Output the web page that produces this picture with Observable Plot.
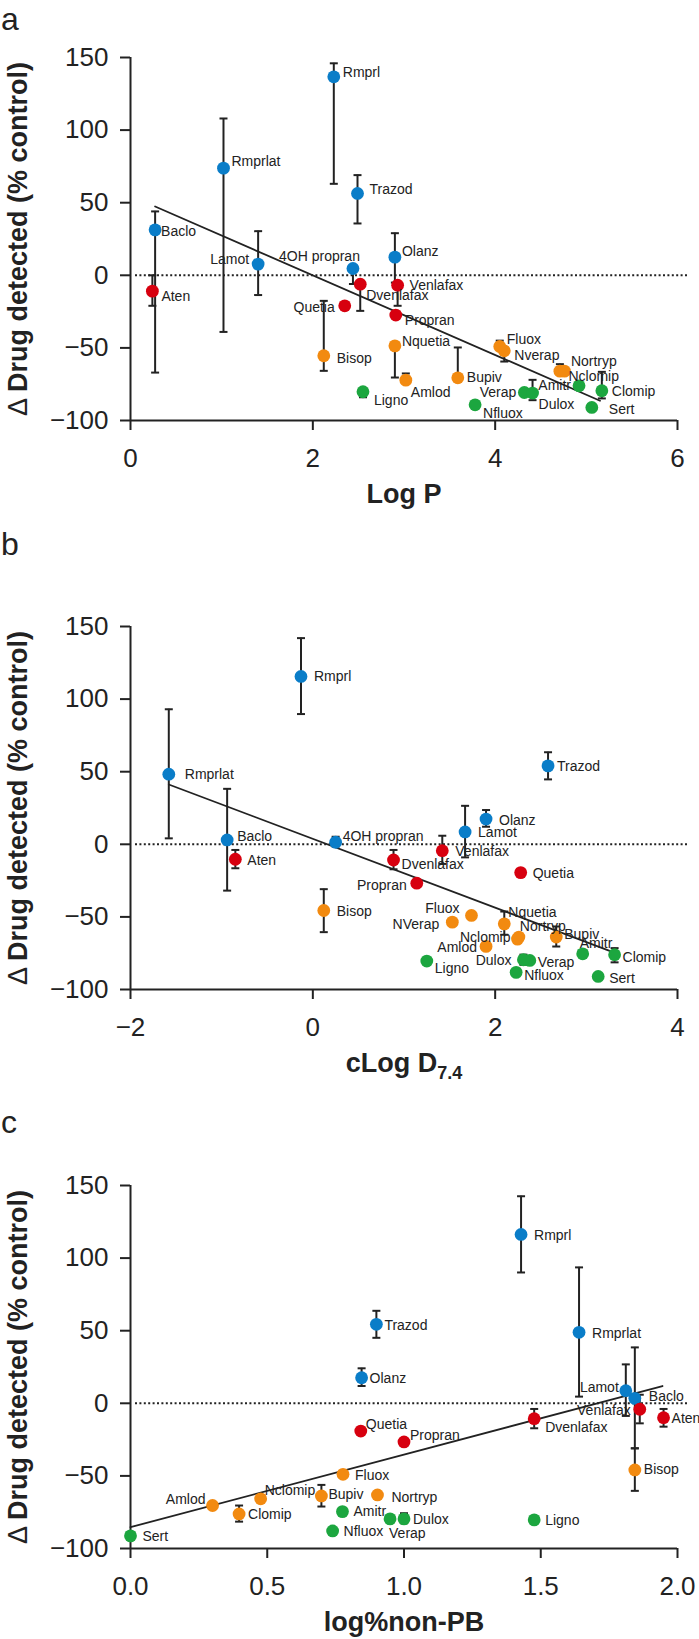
<!DOCTYPE html>
<html><head><meta charset="utf-8">
<script src="https://cdn.jsdelivr.net/npm/d3@7"></script>
<script src="https://cdn.jsdelivr.net/npm/@observablehq/plot@0.6"></script>
<style>
body{margin:0;background:#fff;}
#root{position:relative;width:699px;height:1639px;overflow:hidden;font-family:"Liberation Sans",Arial,sans-serif;background:#fff;}
.panel{position:absolute;left:0;}
.letter{position:absolute;left:1px;font-size:32px;line-height:1;color:#222;}
</style></head><body>
<div id="root">
  <div class="letter" style="top:3px">a</div>
  <div class="letter" style="top:528px">b</div>
  <div class="letter" style="top:1106px">c</div>
  <div class="panel" id="pa" style="top:0px"></div>
  <div class="panel" id="pb" style="top:569px"></div>
  <div class="panel" id="pc" style="top:1128px"></div>
</div>
<script>
// ---------- Panel a : Log P ----------
const aNames  = ["Rmprl","Rmprlat","Trazod","Baclo","Lamot","4OH propran","Olanz","Aten","Quetia","Dvenlafax","Venlafax","Propran","Bisop","Nquetia","Amlod","Bupiv","Fluox","Nverap","Nortryp","Nclomip","Ligno","Nfluox","Verap","Dulox","Amitr","Clomip","Sert"];
const aGroups = ["g1","g1","g1","g1","g1","g1","g1","g2","g2","g2","g2","g2","g3","g3","g3","g3","g3","g3","g3","g3","g4","g4","g4","g4","g4","g4","g4"];
const aX  = [2.23,1.02,2.49,0.27,1.40,2.44,2.90,0.24,2.35,2.52,2.93,2.91,2.12,2.90,3.02,3.59,4.05,4.10,4.71,4.76,2.55,3.78,4.32,4.41,4.92,5.17,5.06];
const aY  = [136.7,73.8,56.4,31.3,7.7,4.7,12.5,-10.9,-21,-6.1,-6.8,-27.4,-55.4,-48.6,-72.2,-70.6,-49,-52,-66,-66,-80.2,-89.2,-80.7,-81.1,-76.1,-79.5,-91];
const aLo = [63,-39,35.7,-67,-13.6,-6,-5,-21,null,-24.5,-21,null,-65.8,-70.4,-72.2,-70.6,-49,-59.4,-66,null,-84,null,null,-86,null,-84.8,null];
const aHi = [146,108,69,44,30.4,4.7,29,0,null,-6.1,-6.8,null,-17.6,-48.6,-67.6,-49.7,-45,-52,-61.2,null,-80.2,null,null,-72,null,-66.5,null];
const aFit = [[0.27,47.4],[5.15,-86.4]];

// ---------- Panel b : cLog D7.4 ----------
const bNames  = ["Rmprl","Rmprlat","Trazod","Baclo","Lamot","4OH propran","Olanz","Aten","Quetia","Dvenlafax","Venlafax","Propran","Bisop","Nquetia","Amlod","Bupiv","Fluox","NVerap","Nortryp","Nclomip","Ligno","Nfluox","Verap","Dulox","Amitr","Clomip","Sert"];
const bGroups = ["g1","g1","g1","g1","g1","g1","g1","g2","g2","g2","g2","g2","g3","g3","g3","g3","g3","g3","g3","g3","g4","g4","g4","g4","g4","g4","g4"];
const bX  = [-0.13,-1.58,2.58,-0.94,1.67,0.25,1.90,-0.85,2.28,0.885,1.42,1.14,0.12,2.10,1.90,2.67,1.74,1.53,2.26,2.245,1.25,2.23,2.38,2.31,2.96,3.31,3.13];
const bY  = [115.6,48.3,54,3,8.5,1.4,17.4,-10.3,-19.5,-10.8,-4.4,-26.8,-45.6,-54.8,-70.3,-63.9,-49,-53.6,-63.9,-65.3,-80.4,-88.2,-80,-79.5,-75.4,-76,-91];
const bLo = [89.7,4.1,44.7,-31.9,-9,-1.6,12.1,-16.5,null,-17.2,-13.5,null,-60.5,-62.3,null,-70.4,null,null,null,null,null,null,null,-83,null,-81.3,null];
const bHi = [142,93,63.4,38.2,26.5,5.2,23.6,-3.9,null,-3.9,5.9,null,-30.9,-46.3,null,-56.6,null,null,null,null,null,null,null,-76,null,-71.5,null];
const bFit = [[-1.58,41.2],[3.27,-73.8]];

// ---------- Panel c : log%non-PB ----------
const cNames  = ["Rmprl","Rmprlat","Trazod","Baclo","Lamot","Olanz","Aten","Quetia","Dvenlafax","Venlafax","Propran","Bisop","Amlod","Bupiv","Fluox","Nortryp","Nclomip","Clomip","Ligno","Nfluox","Verap","Dulox","Amitr","Sert"];
const cGroups = ["g1","g1","g1","g1","g1","g1","g2","g2","g2","g2","g2","g3","g3","g3","g3","g3","g3","g3","g4","g4","g4","g4","g4","g4"];
const cX  = [1.428,1.640,0.899,1.844,1.811,0.845,1.949,0.842,1.476,1.862,1.0,1.844,0.30,0.698,0.777,0.903,0.476,0.397,1.476,0.739,0.949,1.0,0.775,0.0];
const cY  = [116.3,48.9,54.4,3.4,8.7,17.6,-9.9,-19.1,-10.6,-4.1,-26.6,-45.9,-70.4,-63.8,-48.9,-63.1,-65.8,-76.2,-80.3,-87.9,-79.6,-79.6,-74.6,-91.3];
const cLo = [90.1,4.6,45.1,-31,-8.7,11.9,-16.1,null,-17.2,-13.8,null,-60.3,null,-71.1,null,null,null,-81.5,null,null,null,-82.6,null,null];
const cHi = [142.6,93.6,63.7,38.5,26.8,24.1,-3.9,null,-3.9,5.9,null,-31,null,-56.2,null,null,null,-70.4,null,null,null,-75.7,null,null];
const cFit = [[0,-85.3],[1.945,11.9]];

const yTicks = [-100,-50,0,50,100,150];
const aTicks = [0,2,4,6];
const bTicks = [-2,0,2,4];
const cTicks = [0,0.5,1,1.5,2];

// ---------- layout / style ----------
const ink = "#222";
const groupColors = {domain:["g1","g2","g3","g4"], range:["#0a7dc8","#d7000f","#f28a10","#1ca63f"]};
const E = "end";
const aNudge = {"Rmprl":[9,-4],"Rmprlat":[8,-7],"Trazod":[12,-4],"Baclo":[6,2],"Lamot":[-9,-5,E],"4OH propran":[7,-12,E],"Olanz":[7,-6],"Aten":[9,5],"Quetia":[-10,2,E],"Dvenlafax":[6,11],"Venlafax":[12,0],"Propran":[9,5],"Bisop":[13,3],"Nquetia":[7,-4],"Amlod":[5,12],"Bupiv":[9,0],"Fluox":[7,-7],"Nverap":[10,5],"Nortryp":[11,-10],"Nclomip":[4,5],"Ligno":[11,9],"Nfluox":[8,9],"Verap":[-8,0,E],"Dulox":[6,11],"Amitr":[-8,0,E],"Clomip":[10,1],"Sert":[17,2]};
const bNudge = {"Rmprl":[13,0],"Rmprlat":[16,0],"Trazod":[9,1],"Baclo":[10,-3],"Lamot":[13,1],"4OH propran":[7,-6],"Olanz":[13,1],"Aten":[12,1],"Quetia":[12,1],"Dvenlafax":[8,5],"Venlafax":[13,1],"Propran":[-10,2,E],"Bisop":[13,1],"Nquetia":[4,-11],"Amlod":[-9,1,E],"Bupiv":[8,-3],"Fluox":[-12,-7,E],"NVerap":[-13,2,E],"Nortryp":[1,-11],"Nclomip":[-7,-2,E],"Ligno":[8,7],"Nfluox":[8,3],"Verap":[8,2],"Dulox":[-12,1,E],"Amitr":[-3,-10],"Clomip":[8,3],"Sert":[11,2]};
const cNudge = {"Rmprl":[13,1],"Rmprlat":[13,1],"Trazod":[8,1],"Baclo":[14,-2],"Lamot":[-7,-3,E],"Olanz":[8,1],"Aten":[8,1],"Quetia":[5,-7],"Dvenlafax":[11,9],"Venlafax":[-9,1,E],"Propran":[6,-6],"Bisop":[9,0],"Amlod":[-7,-6,E],"Bupiv":[7,-1],"Fluox":[12,1],"Nortryp":[14,3],"Nclomip":[4,-8],"Ligno":[11,1],"Nfluox":[11,1],"Verap":[-1,15],"Dulox":[9,1],"Amitr":[11,0],"Clomip":[9,1],"Sert":[12,1]};

const cap = {draw(ctx){ ctx.moveTo(-4,0); ctx.lineTo(4,0); }};

function makePanel(target, names, groups, xs, ys, los, his, fit, xDomain, xTicks, xFmt, nudge, xLabelParts) {
  const rows = names.map((n,i)=>({name:n, group:groups[i], x:xs[i], y:ys[i], lo:los[i], hi:his[i]}));
  const err = rows.filter(d=>d.lo!=null);
  const capLo = err.filter(d=>d.lo < d.y - 0.5);
  const capHi = err.filter(d=>d.hi > d.y + 0.5);
  const fitRows = fit.map(([x,y])=>({x,y}));
  const labels = rows.map(d=>{
    const [dx,dy,anchor] = nudge[d.name];
    return Plot.text([d], {x:"x", y:"y", text:"name", dx, dy, textAnchor: anchor || "start", fontSize:14, fill:ink});
  });
  const svg = Plot.plot({
    width: 699, height: 511,
    marginLeft: 130, marginRight: 22, marginTop: 57, marginBottom: 91,
    style: {fontFamily: '"Liberation Sans", Arial, sans-serif', color: ink, background: "transparent", overflow: "visible"},
    x: {domain: xDomain},
    y: {domain: [-100,150]},
    color: groupColors,
    marks: [
      Plot.ruleY([0], {stroke: ink, strokeWidth: 2, strokeDasharray: "2,2.4", insetLeft: 5, insetRight: -11}),
      Plot.ruleX([xDomain[0]], {stroke: ink, strokeWidth: 2}),
      Plot.ruleY([-100], {stroke: ink, strokeWidth: 2}),
      Plot.axisY({ticks: yTicks, tickFormat: d3.format("d"), tickSize: 10, tickPadding: 12, fontSize: 26, strokeWidth: 2, stroke: ink,
                  label: "Δ Drug detected (% control)", labelAnchor: "center", labelOffset: 123}),
      Plot.axisX({ticks: xTicks, tickFormat: xFmt, tickSize: 10, tickPadding: 18, fontSize: 26, strokeWidth: 2, stroke: ink,
                  label: xLabelParts[0], labelAnchor: "center", labelOffset: 82}),
      Plot.line(fitRows, {x:"x", y:"y", stroke: ink, strokeWidth: 1.8}),
      Plot.ruleX(err, {x:"x", y1:"lo", y2:"hi", stroke: ink, strokeWidth: 2}),
      Plot.dot(capLo, {x:"x", y:"lo", symbol: cap, r: 4, stroke: ink, strokeWidth: 2, fill: "none"}),
      Plot.dot(capHi, {x:"x", y:"hi", symbol: cap, r: 4, stroke: ink, strokeWidth: 2, fill: "none"}),
      Plot.dot(rows, {x:"x", y:"y", fill:"group", r: 6.4}),
      ...labels
    ]
  });
  const root = d3.select(svg);
  // y-axis title: thin delta, bold words
  const yl = root.select('g[aria-label="y-axis label"] text');
  yl.text(null).attr("font-size", 27);
  yl.append("tspan").attr("font-weight", "normal").text("Δ ");
  yl.append("tspan").attr("font-weight", "bold").text("Drug detected (% control)");
  // x-axis title
  const xl = root.select('g[aria-label="x-axis label"] text');
  xl.text(null).attr("font-size", 27).attr("font-weight", "bold");
  xl.append("tspan").text(xLabelParts[0]);
  if (xLabelParts[1]) {
    xl.append("tspan").attr("font-size", 18).attr("dy", 7).text(xLabelParts[1]);
  }
  document.getElementById(target).appendChild(svg);
}

makePanel("pa", aNames, aGroups, aX, aY, aLo, aHi, aFit, [0,6], aTicks, d3.format("d"), aNudge, ["Log P"]);
makePanel("pb", bNames, bGroups, bX, bY, bLo, bHi, bFit, [-2,4], bTicks, d3.format("d"), bNudge, ["cLog D", "7.4"]);
makePanel("pc", cNames, cGroups, cX, cY, cLo, cHi, cFit, [0,2], cTicks, d3.format(".1f"), cNudge, ["log%non-PB"]);
</script>
</body></html>
